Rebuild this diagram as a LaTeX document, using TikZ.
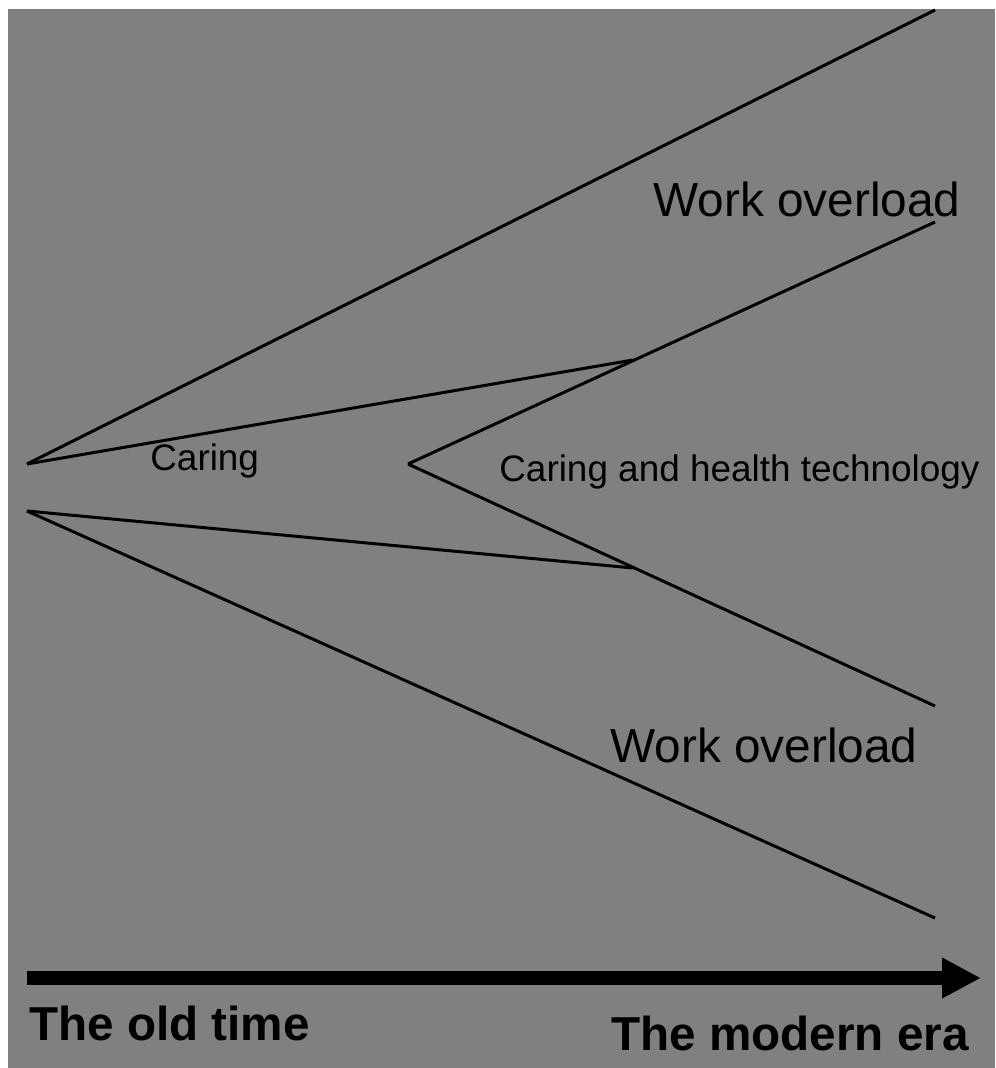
\documentclass[tikz,border=0pt]{standalone}
\usepackage{fontspec}
\setmainfont{Liberation Sans}
\usetikzlibrary{arrows.meta, positioning}

\begin{document}
\begin{tikzpicture}[x=0.02cm, y=-0.02cm,
    branch/.style={line width=1.7pt, black},
    timeaxis/.style={line width=7.6pt, -{Triangle[length=0.78cm, width=0.76cm]}},
    bigtext/.style={font=\fontsize{27.2}{30}\selectfont, inner sep=0pt, anchor=base west},
    smalltext/.style={font=\fontsize{21}{24}\selectfont, inner sep=0pt, anchor=base west},
    axislabel/.style={font=\fontsize{27.1}{30}\selectfont\bfseries, inner sep=0pt, anchor=base west}
]

% Background - white margin on top and left
\useasboundingbox (0,0) rectangle (995,1068);
\fill[white] (0,0) rectangle (995,1068);
\fill[gray] (8,9) rectangle (995,1068);

% Points of the branches
\coordinate (oldtop) at (27,464);
\coordinate (oldbottom) at (27,511);
\coordinate (apex) at (408,464);
\coordinate (meettop) at (633,360);
\coordinate (meetbottom) at (633,568);
\coordinate (endtop) at (935,10);
\coordinate (endupper) at (935,222);
\coordinate (endlower) at (935,706);
\coordinate (endbottom) at (935,918);

% Outer lines
\draw[branch] (oldtop) -- (endtop);
\draw[branch] (oldbottom) -- (endbottom);

% Caring lines meet the technology lines
\draw[branch] (oldtop) -- (meettop);
\draw[branch] (oldbottom) -- (meetbottom);
\draw[branch] (apex) -- (endupper);
\draw[branch] (apex) -- (endlower);

% Labels
\node[bigtext] (overloadtop) at (653,216) {Work overload};
\node[bigtext] (overloadbottom) at (610,762) {Work overload};
\node[smalltext] (caring) at (150,470) {Caring};
\node[smalltext] (caringtech) at (499,481) {Caring and health technology};

% Time axis
\coordinate (axisstart) at (27,978);
\coordinate (axisend) at (981,978);
\draw[timeaxis] (axisstart) -- (axisend);
\node[axislabel] (oldtime) at (29,1040) {The old time};
\node[axislabel] (modernera) at (611,1050) {The modern era};

\end{tikzpicture}
\end{document}
